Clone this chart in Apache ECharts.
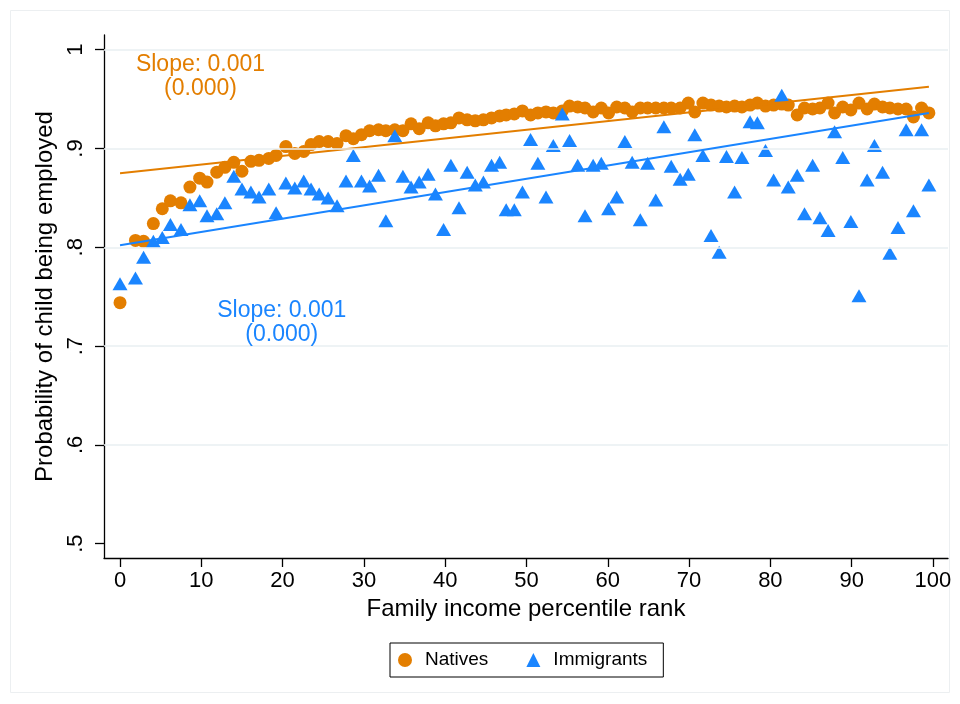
<!DOCTYPE html>
<html>
<head>
<meta charset="utf-8">
<title>Child employment by family income rank</title>
<script src="https://cdn.jsdelivr.net/npm/echarts@6/dist/echarts.min.js"></script>
<style>
  html, body { margin: 0; padding: 0; background: #fff; }
  #chart { width: 960px; height: 704px; }
</style>
</head>
<body>
<div id="chart"></div>
<script>
// Family income percentile rank of each bin (shared by both groups)
const percentileRank = [
  0, 1.9, 2.9, 4.1, 5.2, 6.2, 7.5, 8.6, 9.8, 10.7,
  11.9, 12.9, 14.0, 15.0, 16.1, 17.1, 18.3, 19.2, 20.4, 21.5,
  22.6, 23.5, 24.5, 25.6, 26.7, 27.8, 28.7, 29.7, 30.7, 31.8,
  32.7, 33.8, 34.8, 35.8, 36.8, 37.9, 38.8, 39.8, 40.7, 41.7,
  42.7, 43.7, 44.7, 45.7, 46.7, 47.5, 48.5, 49.5, 50.5, 51.4,
  52.4, 53.3, 54.4, 55.3, 56.3, 57.2, 58.2, 59.2, 60.1, 61.1,
  62.1, 63.0, 64.0, 64.9, 65.9, 66.9, 67.8, 68.9, 69.9, 70.7,
  71.7, 72.7, 73.7, 74.6, 75.6, 76.5, 77.5, 78.4, 79.4, 80.4,
  81.4, 82.2, 83.3, 84.2, 85.2, 86.1, 87.1, 87.9, 88.9, 89.9,
  90.9, 91.9, 92.8, 93.8, 94.7, 95.7, 96.7, 97.6, 98.6, 99.5
];

// Share of children employed, natives
const natives = [
  0.744, 0.807, 0.806, 0.824, 0.839, 0.847, 0.845, 0.861, 0.870, 0.866,
  0.876, 0.881, 0.886, 0.877, 0.887, 0.888, 0.890, 0.893, 0.902, 0.895,
  0.897, 0.904, 0.907, 0.907, 0.905, 0.913, 0.910, 0.914, 0.918, 0.919,
  0.918, 0.919, 0.918, 0.925, 0.920, 0.926, 0.923, 0.925, 0.926, 0.931,
  0.929, 0.928, 0.929, 0.931, 0.933, 0.934, 0.935, 0.938, 0.934, 0.936,
  0.937, 0.936, 0.938, 0.943, 0.942, 0.941, 0.937, 0.941, 0.936, 0.942,
  0.941, 0.937, 0.941, 0.941, 0.941, 0.941, 0.941, 0.941, 0.946, 0.937,
  0.946, 0.944, 0.943, 0.942, 0.943, 0.942, 0.944, 0.946, 0.943, 0.944,
  0.945, 0.944, 0.934, 0.941, 0.940, 0.941, 0.946, 0.936, 0.942, 0.939,
  0.946, 0.940, 0.945, 0.942, 0.941, 0.940, 0.940, 0.932, 0.941, 0.936
];

// Share of children employed, immigrants
const immigrants = [
  0.763, 0.769, 0.790, 0.806, 0.810, 0.823, 0.818, 0.843, 0.847, 0.832,
  0.834, 0.845, 0.872, 0.859, 0.856, 0.851, 0.859, 0.835, 0.865, 0.860,
  0.867, 0.859, 0.854, 0.850, 0.842, 0.867, 0.893, 0.867, 0.862, 0.873,
  0.827, 0.913, 0.872, 0.861, 0.866, 0.874, 0.854, 0.818, 0.883, 0.840,
  0.876, 0.863, 0.866, 0.883, 0.886, 0.838, 0.838, 0.856, 0.909, 0.885,
  0.851, 0.903, 0.935, 0.908, 0.883, 0.832, 0.883, 0.885, 0.839, 0.851,
  0.907, 0.886, 0.828, 0.885, 0.848, 0.922, 0.882, 0.869, 0.874, 0.914,
  0.893, 0.812, 0.795, 0.892, 0.856, 0.891, 0.927, 0.926, 0.898, 0.868,
  0.954, 0.861, 0.873, 0.834, 0.883, 0.830, 0.817, 0.917, 0.891, 0.826,
  0.751, 0.868, 0.903, 0.876, 0.794, 0.820, 0.919, 0.837, 0.919, 0.863
];

// Linear fits: fitted values at both ends of the rank range
const fitRange = [0, 99.5];
const nativesFit = [0.875, 0.9626];
const immigrantsFit = [0.802, 0.936];
// Standard errors of the slopes
const slopeSE = [0.000, 0.000];
// Anchor (rank, probability) of each slope note
const nativesNoteAt = [9.9, 0.973];
const immigrantsNoteAt = [19.9, 0.7235];

// Axis ticks
const xTicks = [0, 10, 20, 30, 40, 50, 60, 70, 80, 90, 100];
const yTicks = [0.5, 0.6, 0.7, 0.8, 0.9, 1.0];
const yGrid = [0.6, 0.7, 0.8, 0.9, 1.0];

const ORANGE = '#E37E00';
const BLUE = '#1A85FF';
const FONT = '"Liberation Sans", Arial, sans-serif';

const zip = (xs, ys) => xs.map((x, i) => [x, ys[i]]);
const slopeOf = fit => (fit[1] - fit[0]) / (fitRange[1] - fitRange[0]);
const noteText = (fit, se) => 'Slope: ' + slopeOf(fit).toFixed(3) + '\n(' + se.toFixed(3) + ')';

const chart = echarts.init(document.getElementById('chart'), null, { renderer: 'canvas' });

chart.setOption({
  backgroundColor: '#fff',
  animation: false,
  textStyle: { fontFamily: FONT },
  graphic: [{
    type: 'rect',
    shape: { x: 10.5, y: 10.5, width: 939, height: 682 },
    style: { fill: 'none', stroke: '#ECEFF1', lineWidth: 1 },
    silent: true, z: -10
  }],
  grid: { left: 104, right: 12, top: 35, bottom: 146, containLabel: false },
  xAxis: {
    type: 'value',
    min: -1.97, max: 101.85,
    name: 'Family income percentile rank',
    nameLocation: 'middle', nameGap: 38,
    nameTextStyle: { fontSize: 24, color: '#000', fontFamily: FONT },
    axisLine: { show: true, onZero: false, lineStyle: { color: '#000', width: 1.3 } },
    axisTick: { show: true, length: 9, customValues: xTicks, lineStyle: { color: '#000', width: 1.3 } },
    axisLabel: { customValues: xTicks, fontSize: 22, color: '#000', margin: 12, fontFamily: FONT },
    splitLine: { show: false }
  },
  yAxis: {
    type: 'value',
    min: 0.4855, max: 1.0149,
    name: 'Probability of child being employed',
    nameLocation: 'middle', nameGap: 46, nameRotate: 90,
    nameTextStyle: { fontSize: 24, color: '#000', fontFamily: FONT },
    axisLine: { show: true, onZero: false, lineStyle: { color: '#000', width: 1.3 } },
    axisTick: { show: true, length: 9, customValues: yTicks, lineStyle: { color: '#000', width: 1.3 } },
    axisLabel: {
      customValues: yTicks, rotate: 90, fontSize: 22, color: '#000', margin: 17, fontFamily: FONT,
      formatter: v => (Math.abs(v - 1) < 1e-9 ? '1' : '.' + Math.round(v * 10))
    },
    splitLine: { show: false }
  },
  legend: {
    data: ['Natives', 'Immigrants'],
    left: 390, top: 643,
    orient: 'horizontal',
    selectedMode: false,
    padding: [6, 16, 6, 8],
    itemGap: 38,
    itemWidth: 14, itemHeight: 14,
    borderColor: '#000', borderWidth: 1,
    textStyle: { fontSize: 19, color: '#000', lineHeight: 22, padding: [0, 0, 0, 8], fontFamily: FONT }
  },
  series: [
    {
      // horizontal grid lines
      type: 'line', data: [], silent: true, z: 0,
      markLine: {
        silent: true, symbol: 'none', animation: false,
        label: { show: false },
        lineStyle: { color: '#E8EFF2', width: 1.5, type: 'solid' },
        data: yGrid.map(v => ({ yAxis: v }))
      }
    },
    {
      name: 'Natives', type: 'scatter', z: 2,
      symbol: 'circle', symbolSize: 13,
      itemStyle: { color: ORANGE, opacity: 1 },
      data: zip(percentileRank, natives)
    },
    {
      name: 'Immigrants', type: 'scatter', z: 3,
      symbol: 'triangle', symbolSize: [15, 13],
      itemStyle: { color: BLUE, opacity: 1 },
      data: zip(percentileRank, immigrants)
    },
    {
      name: 'Natives fit', type: 'line', z: 4,
      showSymbol: false, symbol: 'none',
      lineStyle: { color: ORANGE, width: 2 },
      data: zip(fitRange, nativesFit),
      markPoint: {
        symbol: 'circle', symbolSize: 0, silent: true,
        label: {
          show: true, position: 'inside', color: ORANGE, fontSize: 23, lineHeight: 24,
          align: 'center', fontFamily: FONT,
          formatter: () => noteText(nativesFit, slopeSE[0])
        },
        data: [{ coord: nativesNoteAt }]
      }
    },
    {
      name: 'Immigrants fit', type: 'line', z: 5,
      showSymbol: false, symbol: 'none',
      lineStyle: { color: BLUE, width: 2 },
      data: zip(fitRange, immigrantsFit),
      markPoint: {
        symbol: 'circle', symbolSize: 0, silent: true,
        label: {
          show: true, position: 'inside', color: BLUE, fontSize: 23, lineHeight: 24,
          align: 'center', fontFamily: FONT,
          formatter: () => noteText(immigrantsFit, slopeSE[1])
        },
        data: [{ coord: immigrantsNoteAt }]
      }
    }
  ]
});
</script>
</body>
</html>
